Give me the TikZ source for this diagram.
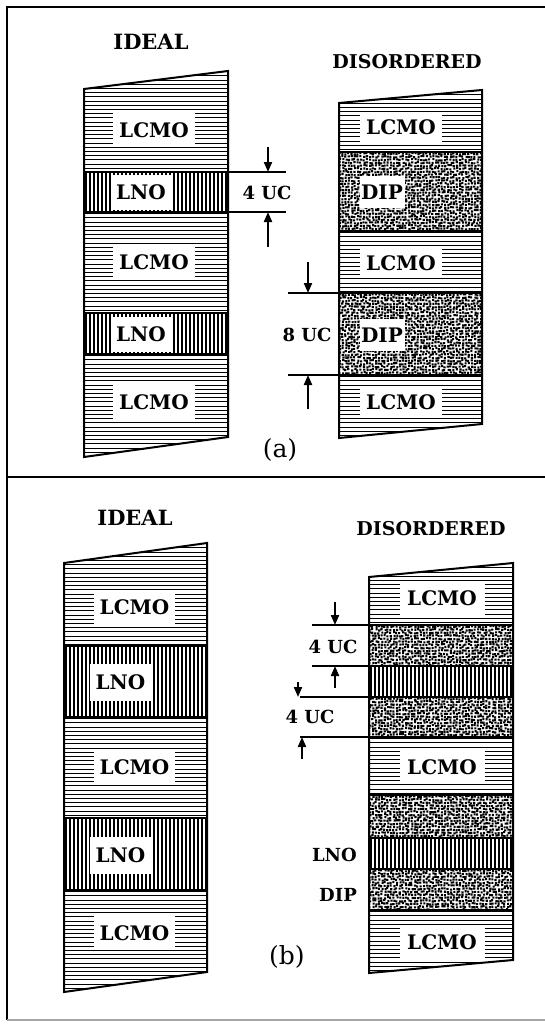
\documentclass[tikz,border=0pt]{standalone}
\usepackage{fontspec}
\setmainfont{DejaVu Serif}
\usetikzlibrary{arrows.meta}
\newcommand\LCMOlayer[4]{%
  \begin{scope}\clip (#1,#3) rectangle (#2,#4);
  \foreach \k in {0,...,40}{\draw[hatch] (#1,{#3+1.6+4.2*\k}) -- (#2,{#3+1.6+4.2*\k});}
  \end{scope}}
\newcommand\LNOlayer[4]{%
  \begin{scope}\clip (#1,#3) rectangle (#2,#4);
  \foreach \k in {0,...,40}{\draw[vhatch] ({#1+2+4*\k},#3) -- ({#1+2+4*\k},#4);}
  \end{scope}}
\newcommand\DIPlayer[4]{%
  \begin{scope}\clip (#1,#3) rectangle (#2,#4);
  \pgfmathtruncatemacro\dipnx{(#2-#1)/3+1}
  \pgfmathtruncatemacro\dipny{(#4-#3)/3+1}
  \foreach \j in {0,...,\dipny}{\fill \foreach \i in {0,...,\dipnx}{({#1-1+3*\i+1.6*rnd},{#3-1+3*\j+1.6*rnd}) rectangle ++(2.1,-2.1)};}
  \end{scope}}
\begin{document}
\begin{tikzpicture}[x=1pt,y=-1pt,
  hatch/.style={line width=0.9pt},
  vhatch/.style={line width=1.5pt},
  edge/.style={line width=2pt,line join=miter},
  bound/.style={line width=2.2pt},
  lbl/.style={fill=white,inner sep=0pt,font=\fontsize{20}{24}\selectfont\bfseries},
  txt/.style={font=\fontsize{18}{22}\selectfont\bfseries,inner sep=0pt},
  ttl/.style={font=\fontsize{19}{22}\selectfont\bfseries,inner sep=0pt},
  dim/.style={line width=2pt},
  dimarrow/.style={line width=2pt,-{Triangle[width=8pt,length=10pt]}},
  panel/.style={font=\fontsize{25}{30}\selectfont,inner sep=0pt}
]
\pgfmathsetseed{7}
\useasboundingbox (0,0) rectangle (545,1025);
% frame
\draw[line width=2.5pt] (545,7) -- (7,7) -- (7,1020);
\draw[line width=2.5pt] (7,477) -- (545,477);
\draw[line width=1.5pt,black!35] (7,1020) -- (545,1020);

% ================= (a) =================
\node[ttl,font=\fontsize{21}{24}\selectfont\bfseries] (tia) at (151,42) {IDEAL};
\node[ttl] (tda) at (407,62) {DISORDERED};
\node[panel] (pa) at (280,450) {(a)};

% ideal column (a)
\begin{scope}
\clip (84,89) -- (228,71) -- (228,437) -- (84,457) -- cycle;
\LCMOlayer{84}{228}{70}{172}
\LNOlayer{84}{228}{172}{212}
\LCMOlayer{84}{228}{212}{313}
\LNOlayer{84}{228}{313}{354}
\LCMOlayer{84}{228}{354}{458}
\end{scope}
\node[lbl,minimum width=82pt,minimum height=34pt] (ia1) at (154,130) {LCMO};
\node[lbl,minimum width=61pt,minimum height=35pt] (ia2) at (141,192) {LNO};
\node[lbl,minimum width=82pt,minimum height=34pt] (ia3) at (154,262) {LCMO};
\node[lbl,minimum width=61pt,minimum height=35pt] (ia4) at (141,334) {LNO};
\node[lbl,minimum width=82pt,minimum height=34pt] (ia5) at (154,402) {LCMO};
\draw[bound] (84,172) -- (228,172) (84,212) -- (228,212) (84,313) -- (228,313) (84,354) -- (228,354);
\draw[edge] (84,89) -- (228,71) -- (228,437) -- (84,457) -- cycle;

% disordered column (a)
\begin{scope}
\clip (339,103) -- (482,90) -- (482,424) -- (339,438) -- cycle;
\LCMOlayer{339}{482}{89}{152}
\DIPlayer{339}{482}{152}{231}
\LCMOlayer{339}{482}{231}{293}
\DIPlayer{339}{482}{293}{375}
\LCMOlayer{339}{482}{375}{439}
\end{scope}
\node[lbl,minimum width=82pt,minimum height=30pt] (da1) at (401,127) {LCMO};
\node[lbl,minimum width=45pt,minimum height=32pt] (da2) at (382,192) {DIP};
\node[lbl,minimum width=82pt,minimum height=30pt] (da3) at (401,263) {LCMO};
\node[lbl,minimum width=45pt,minimum height=32pt] (da4) at (382,335) {DIP};
\node[lbl,minimum width=82pt,minimum height=30pt] (da5) at (401,402) {LCMO};
\draw[bound,line width=2.6pt] (339,152) -- (482,152) (339,231) -- (482,231) (339,293) -- (482,293) (339,375) -- (482,375);
\draw[edge] (339,103) -- (482,90) -- (482,424) -- (339,438) -- cycle;

% dimension (a) 4 UC
\coordinate (a1l) at (228,172); \coordinate (a1r) at (286,172);
\coordinate (a2l) at (228,212); \coordinate (a2r) at (286,212);
\coordinate (a1s) at (268,147); \coordinate (a1e) at (268,172);
\coordinate (a2s) at (268,247); \coordinate (a2e) at (268,212);
\draw[dim] (a1l) -- (a1r) (a2l) -- (a2r);
\draw[dimarrow] (a1s) -- (a1e);
\draw[dimarrow] (a2s) -- (a2e);
\node[txt] (uca) at (267,193) {4 UC};
% dimension (a) 8 UC
\coordinate (b1l) at (288,293); \coordinate (b1r) at (339,293);
\coordinate (b2l) at (288,375); \coordinate (b2r) at (339,375);
\coordinate (b1s) at (308,262); \coordinate (b1e) at (308,293);
\coordinate (b2s) at (308,409); \coordinate (b2e) at (308,375);
\draw[dim] (b1l) -- (b1r) (b2l) -- (b2r);
\draw[dimarrow] (b1s) -- (b1e);
\draw[dimarrow] (b2s) -- (b2e);
\node[txt] (ucb) at (307,335) {8 UC};

% ================= (b) =================
\node[ttl,font=\fontsize{21}{24}\selectfont\bfseries] (tib) at (135,518) {IDEAL};
\node[ttl] (tdb) at (431,529) {DISORDERED};
\node[panel] (pb) at (287,957) {(b)};

% ideal column (b)
\begin{scope}
\clip (64,563) -- (207,543) -- (207,972) -- (64,992) -- cycle;
\LCMOlayer{64}{207}{542}{646}
\LNOlayer{64}{207}{646}{717}
\LCMOlayer{64}{207}{717}{818}
\LNOlayer{64}{207}{818}{890}
\LCMOlayer{64}{207}{890}{993}
\end{scope}
\node[lbl,minimum width=81pt,minimum height=34pt] (ib1) at (134.5,607) {LCMO};
\node[lbl,minimum width=61pt,minimum height=37pt] (ib2) at (120.5,682) {LNO};
\node[lbl,minimum width=81pt,minimum height=34pt] (ib3) at (134.5,767) {LCMO};
\node[lbl,minimum width=61pt,minimum height=37pt] (ib4) at (120.5,855) {LNO};
\node[lbl,minimum width=81pt,minimum height=34pt] (ib5) at (134.5,933) {LCMO};
\draw[bound] (64,646) -- (207,646) (64,717) -- (207,717) (64,818) -- (207,818) (64,890) -- (207,890);
\draw[edge] (64,563) -- (207,543) -- (207,972) -- (64,992) -- cycle;

% disordered column (b)
\begin{scope}
\clip (369,577) -- (513,563) -- (513,960) -- (369,973) -- cycle;
\LCMOlayer{369}{513}{562}{625}
\DIPlayer{369}{513}{625}{666}
\LNOlayer{369}{513}{666}{697}
\DIPlayer{369}{513}{697}{737}
\LCMOlayer{369}{513}{737}{795}
\DIPlayer{369}{513}{795}{838}
\LNOlayer{369}{513}{838}{869}
\DIPlayer{369}{513}{869}{910}
\LCMOlayer{369}{513}{910}{974}
\end{scope}
\node[lbl,minimum width=85pt,minimum height=33pt] (db1) at (442,598) {LCMO};
\node[lbl,minimum width=85pt,minimum height=33pt] (db2) at (442,767) {LCMO};
\node[lbl,minimum width=85pt,minimum height=33pt] (db3) at (442,942) {LCMO};
\draw[bound,line width=2.6pt] (369,625) -- (513,625) (369,666) -- (513,666) (369,697) -- (513,697) (369,737) -- (513,737)
  (369,795) -- (513,795) (369,838) -- (513,838) (369,869) -- (513,869) (369,910) -- (513,910);
\draw[edge] (369,577) -- (513,563) -- (513,960) -- (369,973) -- cycle;
\node[txt,anchor=east] (olno) at (357,855) {LNO};
\node[txt,anchor=east] (odip) at (357,895) {DIP};

% dimension (b) first 4 UC
\coordinate (c1l) at (312,625); \coordinate (c1r) at (369,625);
\coordinate (c2l) at (312,666); \coordinate (c2r) at (369,666);
\coordinate (c1s) at (335,602); \coordinate (c1e) at (335,625);
\coordinate (c2s) at (335,688); \coordinate (c2e) at (335,666);
\draw[dim] (c1l) -- (c1r) (c2l) -- (c2r);
\draw[dimarrow] (c1s) -- (c1e);
\draw[dimarrow] (c2s) -- (c2e);
\node[txt] (ucc) at (333,647) {4 UC};
% dimension (b) second 4 UC
\coordinate (d1l) at (300,697); \coordinate (d1r) at (369,697);
\coordinate (d2l) at (300,737); \coordinate (d2r) at (369,737);
\coordinate (d1s) at (298,682); \coordinate (d1e) at (298,697);
\coordinate (d2s) at (302,759); \coordinate (d2e) at (302,737);
\draw[dim] (d1l) -- (d1r) (d2l) -- (d2r);
\draw[dimarrow] (d1s) -- (d1e);
\draw[dimarrow] (d2s) -- (d2e);
\node[txt] (ucd) at (310,717) {4 UC};
\end{tikzpicture}
\end{document}
